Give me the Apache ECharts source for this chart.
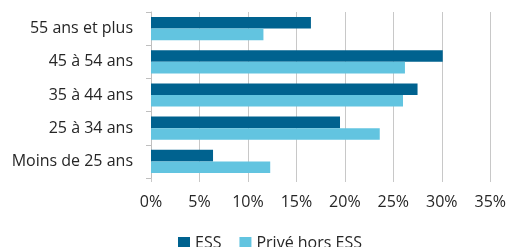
<!DOCTYPE html>
<html><head><meta charset="utf-8">
<script src="https://cdn.jsdelivr.net/npm/echarts@6/dist/echarts.min.js"></script>
<style>html,body{margin:0;padding:0;background:#fff}#c{width:509px;height:247px}</style>
</head><body><div id="c"></div>
<script>
const categories = ['Moins de 25 ans', '25 à 34 ans', '35 à 44 ans', '45 à 54 ans', '55 ans et plus'];
const essValues = [6.4, 19.5, 27.5, 30.1, 16.5];
const priveValues = [12.3, 23.6, 26.0, 26.2, 11.6];
const seriesNames = ['ESS', 'Privé hors ESS'];
const xTicks = [0, 5, 10, 15, 20, 25, 30, 35];

const chart = echarts.init(document.getElementById('c'), null, {renderer: 'canvas'});
const font = 'Open Sans';
chart.setOption({
  animation: false,
  textStyle: {fontFamily: font},
  grid: {left: 151, right: 15, top: 12, bottom: 69, containLabel: false},
  legend: {
    data: seriesNames, top: 235, left: 178,
    itemWidth: 12, itemHeight: 12, itemGap: 18,
    icon: 'rect', padding: 0,
    textStyle: {fontFamily: font, fontSize: 16, color: '#262626', lineHeight: 16}
  },
  xAxis: {
    type: 'value', min: xTicks[0], max: xTicks[xTicks.length - 1], interval: 5,
    axisLine: {show: false},
    axisTick: {show: true, length: 4, lineStyle: {color: '#c8c8c8'}},
    splitLine: {show: true, lineStyle: {color: '#c8c8c8', width: 1}},
    axisLabel: {formatter: v => v + '%', fontSize: 16, color: '#262626', margin: 16, fontFamily: font}
  },
  yAxis: {
    type: 'category', data: categories,
    axisLine: {show: true, lineStyle: {color: '#bfbfbf'}},
    axisTick: {show: true, length: 5, lineStyle: {color: '#bfbfbf'}},
    axisLabel: {fontSize: 16, color: '#262626', margin: 18, fontFamily: font}
  },
  series: [
    {name: seriesNames[0], type: 'bar', data: essValues, itemStyle: {color: '#00628f'},
     barGap: '0%', barCategoryGap: '30%'},
    {name: seriesNames[1], type: 'bar', data: priveValues, itemStyle: {color: '#62c4e0'},
     barGap: '0%', barCategoryGap: '30%'}
  ]
});
</script></body></html>
